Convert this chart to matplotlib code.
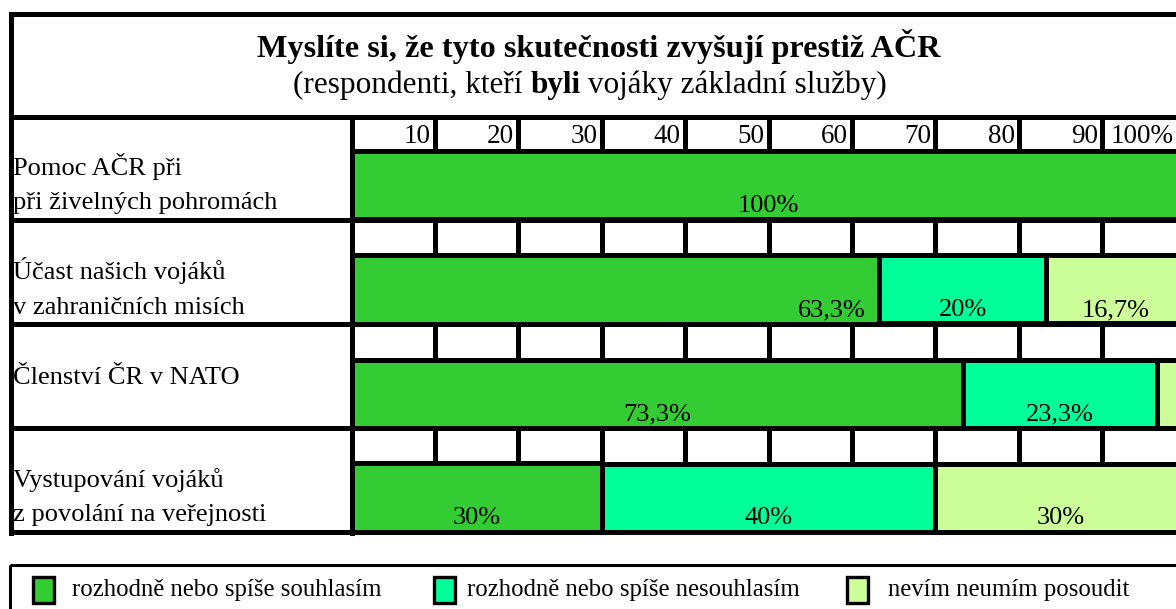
import matplotlib
matplotlib.use('Agg')
import matplotlib.pyplot as plt
import matplotlib.transforms as mtransforms
from matplotlib.patches import Rectangle
import numpy as np

plt.rcParams['font.family'] = ['Liberation Serif', 'DejaVu Serif']

# data
questions = ['Pomoc AČR při\npři živelných pohromách',
             'Účast našich vojáků\nv zahraničních misích',
             'Členství ČR v NATO',
             'Vystupování vojáků\nz povolání na veřejnosti']
agree = [100, 63.3, 73.3, 30]
disagree = [0, 20, 23.3, 40]
dontknow = [0, 16.7, 3.4, 30]
value_labels = [['100%', '', ''],
                ['63,3%', '20%', '16,7%'],
                ['73,3%', '23,3%', ''],
                ['30%', '40%', '30%']]
ticks = [10, 20, 30, 40, 50, 60, 70, 80, 90]
series_names = ['rozhodně nebo spíše souhlasím',
                'rozhodně nebo spíše nesouhlasím',
                'nevím neumím posoudit']
colors = ['#33CC33', '#00FF99', '#CCFF99']

W, H = 1176, 609
fig = plt.figure(figsize=(W / 100, H / 100), dpi=100)

# background axes in pixel units for the table frame
bg = fig.add_axes([0, 0, 1, 1])
bg.set_xlim(0, W)
bg.set_ylim(H, 0)
bg.axis('off')

LW = 3.6  # ~5 px
x0, x100 = 351.5, 1185.5
y_title_bot, y_bottom = 116.5, 532.5
row_px = 104
row0 = 185.5
bar_h = 68 / row_px

# bar axes: x in percent, y in row units
ax = fig.add_axes([x0 / W, 1 - y_bottom / H, (x100 - x0) / W, (y_bottom - y_title_bot) / H])
ax.set_xlim(0, 100)
ax.set_ylim((y_bottom - row0) / row_px, (y_title_bot - row0) / row_px)
ax.axis('off')
ax.patch.set_alpha(0)

# vertical tick lines (covered by bars)
ax.vlines(ticks, (y_bottom - row0) / row_px, (y_title_bot - row0) / row_px,
          color='black', lw=LW, zorder=1)

rows = np.arange(len(questions))
lefts = np.zeros(len(questions))
for vals, col in zip([agree, disagree, dontknow], colors):
    vals = np.array(vals)
    m = vals > 0
    ax.barh(rows[m], vals[m], left=lefts[m], height=bar_h, color=col,
            edgecolor='black', lw=LW, zorder=2)
    lefts = lefts + vals

# value labels near the bottom of each segment
for i in rows:
    cum = 0
    for j, vals in enumerate([agree, disagree, dontknow]):
        v = vals[i]
        lab = value_labels[i][j]
        if lab:
            xc = cum + v / 2
            ha = 'center'
            if i == 1 and j == 0:
                xc, ha = cum + v - 1.6, 'right'
            ax.text(xc, i + bar_h / 2 - 7.5 / row_px, lab, ha=ha, va='baseline',
                    fontsize=19, zorder=3)
        cum += v

# tick labels in header row
tr = mtransforms.blended_transform_factory(ax.transData, bg.transData)
for t in ticks:
    bg.text(t - 0.5, 143, str(t), transform=tr, ha='right', va='baseline', fontsize=19.5)
bg.text(ticks[-1] + 1.0, 143, '100%', transform=tr, ha='left', va='baseline', fontsize=19.5)

# frame lines
xl = 10.8
bg.plot([xl, W + 20], [14.3, 14.3], color='black', lw=LW, solid_capstyle='projecting')
bg.plot([xl, xl], [14.3, y_bottom], color='black', lw=LW, solid_capstyle='projecting')
bg.plot([xl, W + 20], [y_title_bot, y_title_bot], color='black', lw=LW)
bg.plot([x0, x0], [y_title_bot, y_bottom], color='black', lw=LW)
for i in rows:
    yb = row0 + i * row_px + 34
    bg.plot([xl, W + 20], [yb, yb], color='black', lw=LW, solid_capstyle='projecting')

# row labels
for i, q in enumerate(questions):
    ytop = row0 + i * row_px - 34
    for k, line in enumerate(q.split('\n')):
        bg.text(13, ytop + 24 + k * 34, line, ha='left', va='baseline', fontsize=19)

# title
bg.text(599, 47, 'Myslíte si, že tyto skutečnosti zvyšují prestiž AČR',
        ha='center', va='center', fontsize=23.2, fontweight='bold')
parts = [('(respondenti, kteří ', 'normal'), ('byli', 'bold'),
         (' vojáky základní služby)', 'normal')]
r = fig.canvas.get_renderer()
tmp = [bg.text(0, 0, p, fontsize=22.5, fontweight=w) for p, w in parts]
widths = [t.get_window_extent(r).width for t in tmp]
for t in tmp:
    t.remove()
xs = 590 - sum(widths) / 2
for (p, w), wd in zip(parts, widths):
    bg.text(xs, 93, p, fontsize=22.5, fontweight=w, ha='left', va='baseline')
    xs += wd

# legend box
bg.add_patch(Rectangle((10, 565), W + 50, 100, fill=False, edgecolor='black', lw=2.2))
leg_sq_x = [33, 434, 847]
leg_tx_x = [72, 467, 888]
for sx, tx, col, name in zip(leg_sq_x, leg_tx_x, colors, series_names):
    bg.add_patch(Rectangle((sx, 577), 21, 26, facecolor=col, edgecolor='black', lw=2.4))
    bg.text(tx, 596, name, ha='left', va='baseline', fontsize=17.8)

fig.savefig('out.png', dpi=100)
